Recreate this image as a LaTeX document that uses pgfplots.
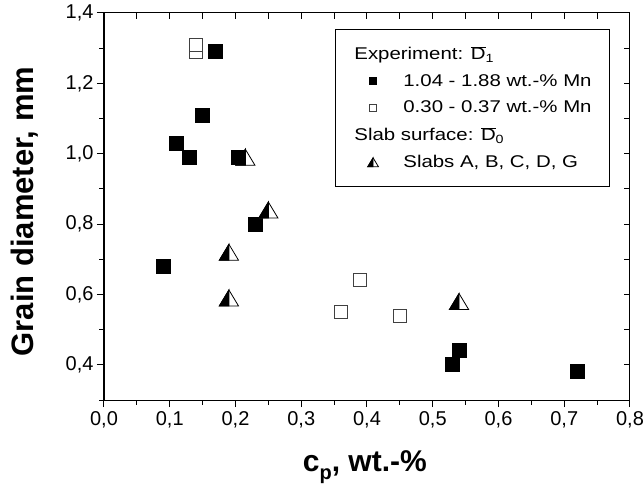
\documentclass[border=0pt]{standalone}
\usepackage{graphicx}
\usepackage{pgfplots}
\pgfplotsset{compat=1.18}
\usepackage{fontspec}
\setmainfont{Liberation Sans}

\newcommand{\lgtxt}[1]{\scalebox{1.2}[1]{#1}}

\pgfdeclareplotmark{halftri}{%
  \pgfpathmoveto{\pgfqpoint{0pt}{\pgfplotmarksize}}%
  \pgfpathlineto{\pgfqpoint{-1.2\pgfplotmarksize}{-\pgfplotmarksize}}%
  \pgfpathlineto{\pgfqpoint{1.2\pgfplotmarksize}{-\pgfplotmarksize}}%
  \pgfpathclose
  \pgfsetfillcolor{white}%
  \pgfusepathqfillstroke
  \pgfpathmoveto{\pgfqpoint{0pt}{\pgfplotmarksize}}%
  \pgfpathlineto{\pgfqpoint{-1.2\pgfplotmarksize}{-\pgfplotmarksize}}%
  \pgfpathlineto{\pgfqpoint{0pt}{-\pgfplotmarksize}}%
  \pgfpathclose
  \pgfsetfillcolor{black}%
  \pgfusepathqfillstroke
}

\pgfplotsset{
  padded legend/.style={legend image code/.code={%
    \path (-27pt,0pt) (8pt,0pt);
    \draw[##1] plot coordinates {(0pt,0pt)};}},
}

\pgfplotstableread{
x y
0.17 1.29
0.15 1.11
0.11 1.03
0.13 0.99
0.09 0.68
0.23 0.80
0.205 0.99
0.54 0.44
0.53 0.40
0.72 0.38
}\highmn

\pgfplotstableread{
x y
0.14 1.29
0.14 1.31
0.36 0.55
0.39 0.64
0.45 0.54
}\lowmn

\pgfplotstableread{
x y
0.215 0.99
0.25 0.84
0.19 0.72
0.19 0.59
0.54 0.58
}\slabs

\begin{document}
\begin{tikzpicture}
\useasboundingbox (-104pt,-88pt) rectangle (540pt,400pt);
\begin{axis}[
  at={(0,0)}, anchor=south west,
  scale only axis, width=526pt, height=387pt,
  xmin=0, xmax=0.8, ymin=0.3, ymax=1.4,
  xtick={0,0.1,0.2,0.3,0.4,0.5,0.6,0.7,0.8},
  minor xtick={0.05,0.15,0.25,0.35,0.45,0.55,0.65,0.75},
  ytick={0.4,0.6,0.8,1.0,1.2,1.4},
  minor ytick={0.3,0.5,0.7,0.9,1.1,1.3},
  xtick pos=left, ytick pos=left, tick align=outside,
  major tick length=7pt, minor tick length=4.5pt,
  tick style={black, line width=1pt},
  axis line style={line width=1pt},
  tick label style={font=\fontsize{20}{20}\selectfont},
  xticklabel style={yshift=-1pt},
  /pgf/number format/use comma,
  /pgf/number format/fixed,
  /pgf/number format/fixed zerofill,
  /pgf/number format/precision=1,
  /pgf/number format/assume math mode=true,
  xlabel={\bfseries c\raisebox{-8pt}{\fontsize{20}{20}\selectfont p}, wt.-\%},
  ylabel={\bfseries Grain diameter, mm},
  xlabel style={font=\fontsize{30}{30}\selectfont, at={(axis description cs:0.496,-0.186)}, anchor=base},
  ylabel style={font=\fontsize{31}{31}\selectfont, at={(axis description cs:-0.15,0.487)}, anchor=center, rotate=0},
  legend style={at={(0.962,0.959)}, anchor=north east, draw=black, line width=0.8pt,
    font=\fontsize{17}{20}\selectfont,
    cells={anchor=west}, inner xsep=10pt, inner ysep=15pt, row sep=9pt,
    /tikz/every odd column/.append style={column sep=20pt}},
  legend cell align=left,
]
\addlegendimage{empty legend}
\addlegendentry{\hspace*{-49pt}\lgtxt{Experiment: \(\overline{\hbox{D}}\)\textsubscript{1}}}
\addplot[only marks, mark=square*, mark size=7pt, mark options={fill=black, draw=black, line width=0.8pt}, padded legend, legend image post style={mark size=3.5pt, line width=0.6pt}] table {\highmn};
\addlegendentry{\lgtxt{1.04 - 1.88 wt.-\% Mn}\hspace*{6pt}}
\addplot[only marks, mark=square*, mark size=6.5pt, mark options={fill=white, draw=black!75, line width=1pt}, padded legend, legend image post style={mark size=3.5pt, line width=0.6pt}] table {\lowmn};
\addlegendentry{\lgtxt{0.30 - 0.37 wt.-\% Mn}}
\addlegendimage{empty legend}
\addlegendentry{\hspace*{-49pt}\lgtxt{Slab surface: \(\overline{\hbox{D}}\)\textsubscript{0}}}
\addplot[only marks, mark=halftri, mark size=8pt, mark options={draw=black, line width=0.8pt}, padded legend, legend image post style={mark size=4.5pt, line width=0.6pt}] table {\slabs};
\addlegendentry{\lgtxt{Slabs A, B, C, D, G}\rule[-21pt]{0pt}{0pt}}
\end{axis}
\begin{axis}[
  at={(0,0)}, anchor=south west,
  scale only axis, width=526pt, height=387pt,
  xmin=0, xmax=0.8, ymin=0.3, ymax=1.4,
  xtick={0,0.05,0.1,0.15,0.2,0.25,0.3,0.35,0.4,0.45,0.5,0.55,0.6,0.65,0.7,0.75,0.8},
  ytick={0.3,0.4,0.5,0.6,0.7,0.8,0.9,1.0,1.1,1.2,1.3,1.4},
  xtick pos=right, ytick pos=right, tick align=inside,
  major tick length=6pt,
  tick style={black, line width=1pt},
  axis line style={line width=1pt},
  xticklabels={}, yticklabels={},
]
\end{axis}
\end{tikzpicture}
\end{document}
